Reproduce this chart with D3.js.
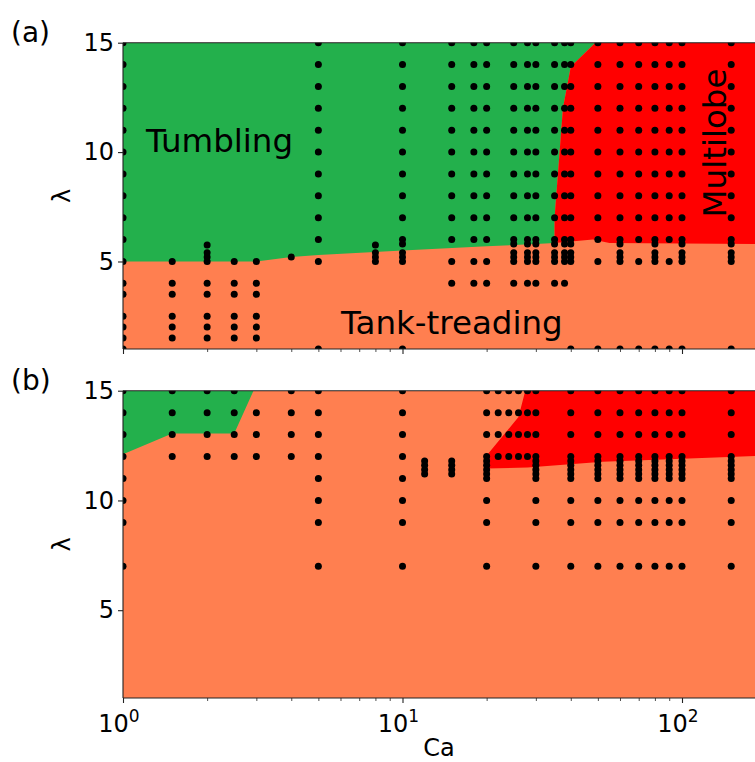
<!DOCTYPE html>
<html><head><meta charset="utf-8">
<script src="https://cdn.jsdelivr.net/npm/d3@7"></script>
<style>body{margin:0;background:#fff}svg{display:block}text{font-family:"DejaVu Sans",sans-serif;fill:#000}</style>
</head><body><svg id="c" width="755" height="762"></svg>
<script>
// ---------- data ----------
const xTickMajor = [1, 10, 100];
const xTickExp = ["0", "1", "2"];
const xTickMinor = [2,3,4,5,6,7,8,9,20,30,40,50,60,70,80,90,200];
const yTicks = [5, 10, 15];
const yTickLabels = ["5", "10", "15"];

// panel (a) simulated points: Ca columns and lambda values per column
const caA = [1,1.5,2,2.5,3,4,5,8,10,15,18,20,25,28,30,35,38,40,50,60,70,80,90,100,150];
const lamA = [
  [1,1.5,2,2.5,3.5,4,5,6,7,8,9,10,11,12,13,14,15],
  [1.5,2,2.5,3.5,4,5],
  [1.5,2,2.5,3.5,4,5,5.2,5.4,5.75],
  [1.5,2,2.5,3.5,4,5],
  [1.5,2,2.5,3.5,4,5],
  [5.2],
  [1,5,6,7,8,9,10,11,12,13,14,15],
  [5,5.2,5.4,5.75],
  [1,5,5.2,5.4,5.8,6,7,8,9,10,11,12,13,14,15],
  [4,5,6,7,8,9,10,11,12,13,14,15],
  [4,5,6,7,8,9,10,11,12,13,14,15],
  [4,5,6,7,8,9,10,11,12,13,14,15],
  [4,5,5.2,5.4,5.8,6,7,8,9,10,11,12,13,14,15],
  [4,5,5.2,5.4,5.8,6,7,8,9,10,11,12,13,14,15],
  [4,5,5.2,5.4,5.8,6,7,8,9,10,11,12,13,14,15],
  [4,5,5.2,5.4,5.8,6,7,8,9,10,11,12,13,14,15],
  [4,5,5.2,5.4,5.8,6,7,8,9,10,11,12,13,14,15],
  [1,5,5.2,5.4,5.8,6,7,8,9,10,11,12,13,14,15],
  [1,5,6,7,8,9,10,11,12,13,14,15],
  [1,5,5.2,5.4,5.8,6,7,8,9,10,11,12,13,14,15],
  [1,5,6,7,8,9,10,11,12,13,14,15],
  [1,5,5.2,5.4,5.8,6,7,8,9,10,11,12,13,14,15],
  [1,5,6,7,8,9,10,11,12,13,14,15],
  [1,5,5.2,5.4,5.8,6,7,8,9,10,11,12,13,14,15],
  [1,5,5.2,5.4,5.8,6,7,8,9,10,11,12,13,14,15]
];
// panel (b)
const caB = [1,1.5,2,2.5,3,4,5,10,12,15,20,22,24,26,28,30,40,50,60,70,80,90,100,150];
const lamB = [
  [7,9,10,11,12,13,14,15],
  [12,13,14,15],
  [12,13,14,15],
  [12,13,14,15],
  [12,13,14],
  [12,13,14,15],
  [7,9,10,11,12,13,14,15],
  [7,9,10,11,12,13,14,15],
  [11.2,11.4,11.6,11.8],
  [11.2,11.4,11.6,11.8],
  [7,9,10,11,11.2,11.4,11.6,11.8,12,13,14,15],
  [12,13,14,15],
  [12,13,14,15],
  [12,13,14,15],
  [12,13,14,15],
  [7,9,10,11,11.2,11.4,11.6,11.8,12,13,14,15],
  [7,9,10,11,11.2,11.4,11.6,11.8,12,13,14,15],
  [7,9,10,11,11.2,11.4,11.6,11.8,12,13,14,15],
  [7,9,10,11,11.2,11.4,11.6,11.8,12,13,14,15],
  [7,9,10,11,11.2,11.4,11.6,11.8,12,13,14,15],
  [7,9,10,11,11.2,11.4,11.6,11.8,12,13,14,15],
  [7,9,10,11,11.2,11.4,11.6,11.8,12,13,14,15],
  [7,9,10,11,11.2,11.4,11.6,11.8,12,13,14,15],
  [7,9,10,11,11.2,11.4,11.6,11.8,12,13,14,15]
];

// regime boundaries [Ca, lambda]
const tumblingA = [[1,15],[1,5],[3,5],[4,5.2],[5,5.3],[10,5.5],[20,5.7],[30,5.8],[35,5.85],[35,7],[37.5,12],[40,13.9],[49,15]];
const multilobeA = [[35,5.85],[35,7],[37.5,12],[40,13.9],[49,15],[200,15],[200,5.8],[55,5.85],[48,6.0]];
const tumblingB = [[1,15],[1,12.1],[1.5,13.05],[2.5,13.05],[2.93,15]];
const multilobeB = [[20,12.05],[20,11.45],[28,11.5],[52,11.76],[200,12.05],[200,15],[27.5,15],[26,13.8]];

const regionLabelsA = ["Tumbling", "Tank-treading", "Multilobe"];

// ---------- drawing ----------
const C_GREEN = "#23b04c", C_ORANGE = "#ff7f50", C_RED = "#ff0000";
const FS_TICK = 24, FS_REGION = 32.5, FS_PANEL = 28;
const svg = d3.select("#c");
const x0 = 123, decade = 279.5;
const x = d3.scaleLog().domain([1, 200]).range([x0, x0 + decade * Math.log10(200)]);

function panel(top, bottom, ca, lam, tumb, multi, id, showXLabels) {
  const y = d3.scaleLinear().domain([1, 15]).range([bottom, top]);
  const g = svg.append("g");
  g.append("clipPath").attr("id", "clip" + id).append("rect")
    .attr("x", x(1)).attr("y", y(15)).attr("width", x(200) - x(1)).attr("height", y(1) - y(15));
  const pg = g.append("g").attr("clip-path", `url(#clip${id})`);
  pg.append("rect").attr("x", x(1)).attr("y", y(15)).attr("width", x(200) - x(1)).attr("height", y(1) - y(15)).attr("fill", C_ORANGE);
  const line = d3.line().x(d => x(d[0])).y(d => y(d[1]));
  pg.append("path").attr("d", line(tumb) + "Z").attr("fill", C_GREEN);
  pg.append("path").attr("d", line(multi) + "Z").attr("fill", C_RED);
  const pts = [];
  ca.forEach((c, i) => lam[i].forEach(l => pts.push([c, l])));
  pg.selectAll("circle").data(pts).join("circle")
    .attr("cx", d => x(d[0])).attr("cy", d => y(d[1])).attr("r", 3.5).attr("fill", "#000");

  // spines
  const sp = g.append("g").attr("stroke", "#222").attr("stroke-width", 1.1).attr("fill", "none");
  sp.append("line").attr("x1", x(1)).attr("x2", x(200)).attr("y1", y(15)).attr("y2", y(15));
  sp.append("line").attr("x1", x(1)).attr("x2", x(200)).attr("y1", y(1)).attr("y2", y(1));
  sp.append("line").attr("x1", x(1)).attr("x2", x(1)).attr("y1", y(15)).attr("y2", y(1));

  // y axis
  const ya = g.append("g").attr("transform", `translate(${x(1)},0)`)
    .call(d3.axisLeft(y).tickValues(yTicks).tickSize(5).tickPadding(4).tickSizeOuter(0)
      .tickFormat((d, i) => yTickLabels[i]));
  ya.select(".domain").remove();
  ya.selectAll("line").attr("stroke", "#222").attr("stroke-width", 1.1);
  ya.selectAll("text").attr("font-size", FS_TICK).attr("font-family", "DejaVu Sans");

  // x axis minor
  const xm = g.append("g").attr("transform", `translate(0,${y(1)})`)
    .call(d3.axisBottom(x).tickValues(xTickMinor).tickSize(3).tickFormat(""));
  xm.select(".domain").remove();
  xm.selectAll("line").attr("stroke", "#222").attr("stroke-width", 0.8);
  const xa = g.append("g").attr("transform", `translate(0,${y(1)})`)
    .call(d3.axisBottom(x).tickValues(xTickMajor).tickSize(5).tickPadding(4).tickFormat(""));
  xa.select(".domain").remove();
  xa.selectAll("line").attr("stroke", "#222").attr("stroke-width", 1.1);
  if (showXLabels) {
    xTickMajor.forEach((v, i) => {
      const t = g.append("text").attr("x", x(v) - 4).attr("y", y(1) + 34)
        .attr("text-anchor", "middle").attr("font-size", FS_TICK);
      t.append("tspan").text("10");
      t.append("tspan").attr("dy", -10).attr("font-size", 17).text(xTickExp[i]);
    });
  }
  // lambda label
  g.append("text").attr("transform", `translate(70,${(top + bottom) / 2}) rotate(-90)`)
    .attr("text-anchor", "middle").attr("font-size", FS_TICK).text("λ");
  return {y, g};
}

const pa = panel(42.7, 349, caA, lamA, tumblingA, multilobeA, "a", false);
const pb = panel(390.7, 698, caB, lamB, tumblingB, multilobeB, "b", true);

svg.append("text").attr("x", 11).attr("y", 42).attr("font-size", FS_PANEL).text("(a)");
svg.append("text").attr("x", 11).attr("y", 390).attr("font-size", FS_PANEL).text("(b)");
svg.append("text").attr("x", 439).attr("y", 756).attr("text-anchor", "middle").attr("font-size", FS_TICK).text("Ca");

svg.append("text").attr("x", 146).attr("y", 152).attr("font-size", FS_REGION).text(regionLabelsA[0]);
svg.append("text").attr("x", 341).attr("y", 334).attr("font-size", FS_REGION).text(regionLabelsA[1]);
svg.append("text").attr("transform", "translate(726,143) rotate(-90)").attr("text-anchor", "middle").attr("font-size", FS_REGION).text(regionLabelsA[2]);
</script></body></html>
